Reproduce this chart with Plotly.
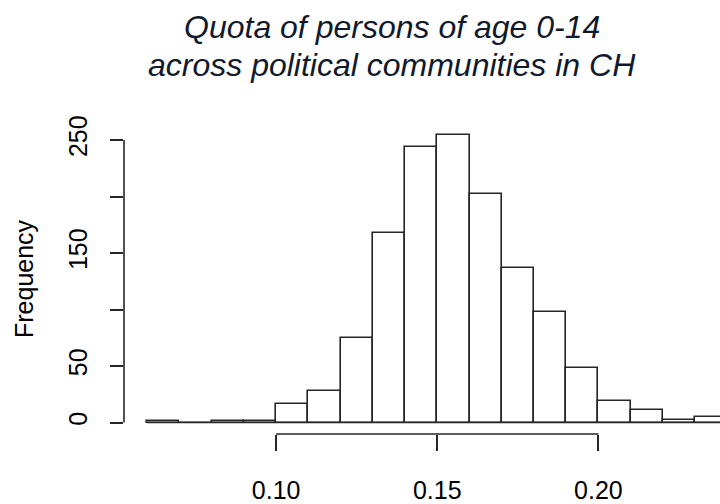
import plotly.graph_objects as go

# Histogram of the share of persons aged 0-14 per political community (bins of 0.01)
bin_starts = [0.06, 0.07, 0.08, 0.09, 0.10, 0.11, 0.12, 0.13, 0.14,
              0.15, 0.16, 0.17, 0.18, 0.19, 0.20, 0.21, 0.22, 0.23]
counts = [1, 0, 1, 1, 16, 28, 75, 168, 244, 254, 202, 137, 98, 48, 19, 11, 2, 5]
bin_width = 0.01

x_ticks = [0.10, 0.15, 0.20]
y_ticks = [0, 50, 100, 150, 200, 250]
# labels that would collide along the rotated axis are left out
y_tick_text = ["0", "50", "", "150", "", "250"]

title_lines = ["Quota of persons of age 0-14", "across political communities in CH"]
y_title = "Frequency"

FONT = "Liberation Sans"
W, H = 720, 504
L, R, T, B = 124, 0, 124, 66
pw, ph = W - L - R, H - T - B

def px(p):
    return (p - L) / pw

def py(p):
    return (H - B - p) / ph

centers = [s + bin_width / 2 for s in bin_starts]
edges_lo, edges_hi = bin_starts[0], bin_starts[-1] + bin_width
span = edges_hi - edges_lo
x_lo = edges_lo - 0.04 * span
x_px_per_unit = 3223.0
x_hi = x_lo + pw / x_px_per_unit
ymax = max(counts)

fig = go.Figure()
fig.add_trace(go.Bar(
    x=centers, y=counts, width=bin_width,
    marker=dict(color="white", line=dict(color="#262626", width=1.6)),
    hoverinfo="x+y", showlegend=False,
))
# empty bins still show their outline along the baseline
fig.add_trace(go.Scatter(
    x=[edges_lo, edges_hi], y=[0, 0], mode="lines",
    line=dict(color="#262626", width=1.6), hoverinfo="skip", showlegend=False,
))

fig.update_layout(
    width=W, height=H,
    margin=dict(l=L, r=R, t=T, b=B, pad=0),
    paper_bgcolor="white", plot_bgcolor="white",
    font=dict(family=FONT, color="black", size=25),
    bargap=0,
    xaxis=dict(
        range=[x_lo, x_hi], tickvals=x_ticks, ticktext=[f"{v:.2f}" for v in x_ticks],
        ticks="outside", ticklen=16, tickwidth=1.6, tickcolor="#262626",
        showline=False, showgrid=False, zeroline=False,
        tickfont=dict(family=FONT, size=25, color="black"),
        ticklabelstandoff=18,
    ),
    yaxis=dict(
        range=[-0.04 * ymax, 1.04 * ymax], tickvals=y_ticks, ticktext=y_tick_text,
        ticks="outside", ticklen=13, tickwidth=1.6, tickcolor="#262626",
        showline=False, showgrid=False, zeroline=False, tickangle=-90,
        tickfont=dict(family=FONT, size=25, color="black"),
        ticklabelstandoff=13,
    ),
)

# axis lines spanning only the labelled tick range
fig.add_shape(type="line", xref="x", yref="paper", x0=x_ticks[0], x1=x_ticks[-1], y0=0, y1=0,
              line=dict(color="#262626", width=1.6))
fig.add_shape(type="line", xref="paper", yref="y", x0=0, x1=0, y0=y_ticks[0], y1=y_ticks[-1],
              line=dict(color="#262626", width=1.6))

# y-axis title
fig.add_annotation(text=y_title, textangle=-90, xref="paper", yref="paper",
                   x=px(24), y=py((T + H - B) / 2), xanchor="center", yanchor="middle",
                   showarrow=False, font=dict(family=FONT, size=25, color="black"))

# two-line italic main title
for line, yc in zip(title_lines, [26, 64]):
    fig.add_annotation(text=line, xref="paper", yref="paper", x=px(392), y=py(yc),
                       xanchor="center", yanchor="middle", showarrow=False,
                       font=dict(family=FONT, size=32, color="#101a2c", style="italic"))

fig.write_html("out.html")
